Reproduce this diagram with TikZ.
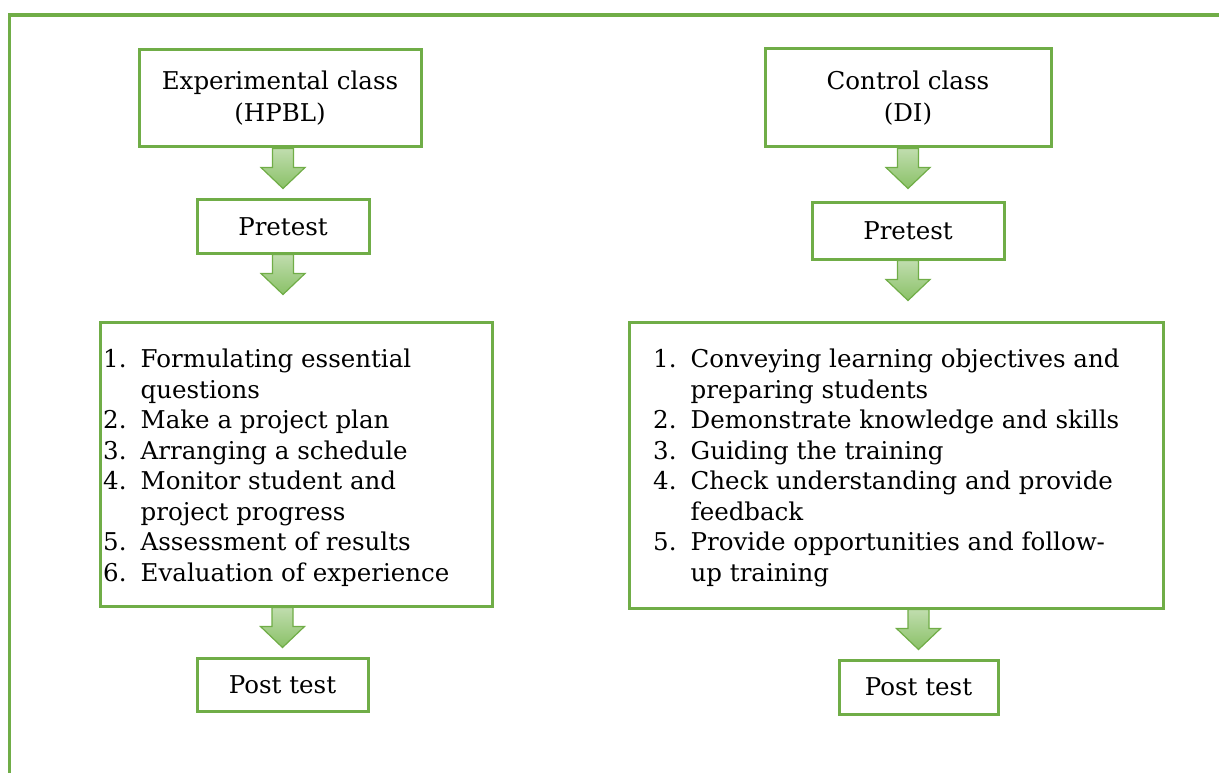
\documentclass[tikz,border=0pt]{standalone}
\usepackage{fontspec}
\setmainfont{DejaVu Serif}
\usetikzlibrary{calc}

\definecolor{boxgreen}{RGB}{112,173,71}
\definecolor{arrowtop}{RGB}{192,221,174}
\definecolor{arrowbot}{RGB}{138,193,103}

\tikzset{
  box/.style={draw=boxgreen, line width=3pt, inner sep=0pt, align=center,
    font=\fontsize{24.5}{32}\selectfont},
  steplist/.style={anchor=north west, inner sep=0pt, align=left,
    font=\fontsize{24.5}{30.5}\selectfont},
  blockarrow/.style={draw=boxgreen, line width=1.2pt, top color=arrowtop, bottom color=arrowbot}
}

% block arrow: starts below node #1, centred on node #2
\newcommand{\greenarrow}[2]{%
  \path[blockarrow] ($(#2 |- #1.south)+(-10.5,0)$) -- ++(0,19) -- ++(-11.5,0)
    -- ++(22,21) -- ++(22,-21) -- ++(-11.5,0) -- ++(0,-19) -- cycle;}
\newcommand{\num}[1]{\makebox[37.5pt][l]{#1}}

\begin{document}
\begin{tikzpicture}[x=1pt, y=-1pt]
            \useasboundingbox (0,0) rectangle (1219,773);

            % Outer frame
            \draw[boxgreen, line width=3.5pt] (9.5,773) -- (9.5,15) -- (1219,15);

            % Experimental class
            \node[box, minimum width=282, minimum height=97] (hpbl) at (280,98.5) {Experimental class\\(HPBL)};
            \node[box, minimum width=172, minimum height=53] (preL) at (283,226.5) {Pretest};
            \node[box, minimum width=392, minimum height=284] (listL) at (296,464) {};
            \node[box, minimum width=171, minimum height=53] (postL) at (282.5,684.5) {Post test};
            \node[steplist] (stepsL) at (103,349) {%
              \num{1.}Formulating essential\\
              \num{}questions\\
              \num{2.}Make a project plan\\
              \num{3.}Arranging a schedule\\
              \num{4.}Monitor student and\\
              \num{}project progress\\
              \num{5.}Assessment of results\\
              \num{6.}Evaluation of experience};

            % Control class
            \node[box, minimum width=286, minimum height=98] (di) at (908,98) {Control class\\(DI)};
            \node[box, minimum width=192, minimum height=56] (preR) at (908,231) {Pretest};
            \node[box, minimum width=534, minimum height=286] (listR) at (896,465) {};
            \node[box, minimum width=159, minimum height=54] (postR) at (918.5,687) {Post test};
            \node[steplist] (stepsR) at (653,349) {%
              \num{1.}Conveying learning objectives and\\
              \num{}preparing students\\
              \num{2.}Demonstrate knowledge and skills\\
              \num{3.}Guiding the training\\
              \num{4.}Check understanding and provide\\
              \num{}feedback\\
              \num{5.}Provide opportunities and follow-\\
              \num{}up training};

            % Arrows
            \greenarrow{hpbl}{preL}
            \greenarrow{preL}{preL}
            \greenarrow{listL}{postL}
            \greenarrow{di}{preR}
            \greenarrow{preR}{preR}
            \greenarrow{listR}{postR}
        \end{tikzpicture}
\end{document}
